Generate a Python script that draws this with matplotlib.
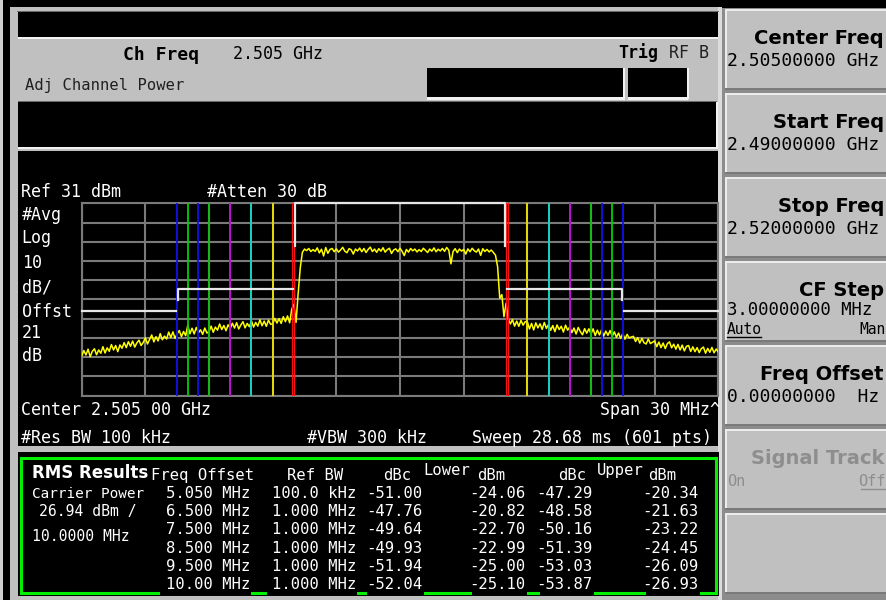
import numpy as np
import matplotlib
matplotlib.use("Agg")
import matplotlib.pyplot as plt
from matplotlib.patches import Rectangle

# ---------------- data ----------------
center_ghz = 2.505
span_mhz = 30.0
ref_level_dbm = 31
db_per_div = 10
n_div = 10

# averaged trace (dBm), read every 0.1 MHz from -15 MHz to +15 MHz
trace_dbm = [
    -48.5, -45.6, -47.9, -44.9, -48.8, -46.0, -44.7, -47.8, -45.3, -47.0,
    -43.6, -46.9, -44.2, -46.0, -42.5, -45.3, -43.0, -46.2, -42.7, -44.4,
    -41.5, -44.1, -41.0, -43.4, -40.7, -43.8, -41.6, -40.2, -43.0, -41.4,
    -39.0, -42.2, -39.8, -37.5, -41.1, -38.4, -40.6, -36.8, -40.0, -38.1,
    -39.6, -36.0, -38.8, -35.9, -39.3, -36.8, -35.2, -38.4, -35.7, -37.9,
    -32.5, -36.9, -34.0, -37.0, -33.6, -36.4, -34.8, -37.2, -33.9, -36.5,
    -35.8, -32.9, -36.1, -33.4, -35.0, -31.8, -34.7, -32.6, -35.3, -32.2,
    -34.0, -31.4, -33.9, -31.1, -34.4, -32.3, -30.6, -33.8, -31.5, -33.2,
    -30.2, -33.4, -31.0, -32.9, -29.6, -32.7, -30.3, -33.0, -29.8, -31.9,
    -31.8, -28.9, -31.3, -29.0, -31.5, -28.0, -30.6, -27.6, -31.2, -24.0,
    -21.5, -31.0, -16.0, -2.5, 5.5, 7.2, 6.4, 7.5, 5.9, 6.9,
    6.0, 7.8, 5.2, 7.1, 3.6, 8.0, 5.0, 7.0, 7.5, 5.8,
    7.3, 5.6, 6.7, 8.1, 6.1, 5.3, 7.4, 6.8, 4.6, 7.2,
    6.2, 7.7, 5.8, 7.5, 5.4, 7.0, 8.2, 5.9, 7.2, 5.5,
    7.4, 6.1, 7.9, 5.6, 6.9, 7.6, 4.9, 6.7, 7.3, 5.8,
    7.6, 6.0, 3.8, 7.0, 5.6, 7.5, 6.3, 7.2, 5.7, 6.9,
    5.9, 7.6, 6.5, 5.4, 7.2, 6.1, 7.8, 5.8, 7.1, 6.2,
    7.5, 6.0, 8.0, 6.6, -0.5, 5.9, 7.4, 5.3, 7.2, 6.1,
    7.0, 4.6, 7.3, 5.8, 7.6, 6.3, 5.6, 7.2, 3.9, 7.4,
    5.9, 7.0, 5.7, 6.7, 5.4, 4.0, -2.0, -18.4, -16.5, -28.0,
    -21.0, -29.0, -31.8, -29.5, -32.9, -30.3, -33.0, -29.9, -32.4, -30.6,
    -30.6, -34.4, -31.5, -34.9, -31.2, -33.8, -31.7, -34.6, -31.0, -34.1,
    -32.0, -35.1, -32.6, -35.8, -32.3, -34.7, -33.0, -36.0, -32.4, -35.0,
    -33.3, -36.3, -33.9, -37.0, -33.6, -35.8, -37.4, -34.2, -36.6, -34.3,
    -36.9, -34.3, -37.8, -35.0, -37.5, -34.8, -38.1, -35.5, -37.7, -35.2,
    -38.2, -35.9, -38.7, -36.5, -39.3, -36.8, -39.7, -37.2, -39.0, -38.6,
    -38.2, -40.9, -38.9, -41.7, -39.3, -41.6, -42.2, -39.6, -42.0, -41.3,
    -40.6, -43.6, -41.2, -44.1, -41.7, -44.6, -42.0, -41.1, -44.2, -42.3,
    -44.9, -42.4, -45.3, -42.8, -45.8, -43.4, -43.0, -46.1, -43.7, -46.2,
    -44.1, -46.7, -44.6, -43.8, -47.0, -44.5, -46.5, -44.0, -46.8, -44.8,
    -46.4,
]

# ACP setup and results
offsets_mhz = [5.05, 6.5, 7.5, 8.5, 9.5, 10.0]
ref_bw_mhz = [0.1, 1.0, 1.0, 1.0, 1.0, 1.0]
offset_colors = ["#ff1010", "#f0e000", "#00d0d0", "#d000d0", "#00d000", "#1010f0"]
lower_dbc = [-51.00, -47.76, -49.64, -49.93, -51.94, -52.04]
lower_dbm = [-24.06, -20.82, -22.70, -22.99, -25.00, -25.10]
upper_dbc = [-47.29, -48.58, -50.16, -51.39, -53.03, -53.87]
upper_dbm = [-20.34, -21.63, -23.22, -24.45, -26.09, -26.93]
carrier_power_dbm = 26.94
carrier_bw_mhz = 10.0

# white limit/bar lines (lower side; upper side mirrored)
carrier_mask_f = [-4.93, -4.93, 4.95, 4.95]
carrier_mask_db = [8.6, 31.0, 31.0, 8.9]
adj_mask_f = [-10.47, -10.47, -5.05]
adj_mask_db = [-19.2, -13.6, -13.6]
far_mask_f = [-15.0, -10.56]
far_mask_db = [-24.9, -24.9]

# softkeys
softkey_labels = ["Center Freq", "Start Freq", "Stop Freq", "CF Step", "Freq Offset", "Signal Track", ""]
softkey_values = ["2.50500000 GHz", "2.49000000 GHz", "2.52000000 GHz", "3.00000000 MHz",
                  "0.00000000  Hz", "", ""]

# ---------------- figure ----------------
W, H = 886, 600
fig = plt.figure(figsize=(W / 100, H / 100), dpi=100, facecolor="black")
bg = fig.add_axes([0, 0, 1, 1])
bg.set_xlim(0, W)
bg.set_ylim(H, 0)
bg.axis("off")

MONO = ["DejaVu Sans Mono", "DejaVu Sans"]
SANS = ["DejaVu Sans"]


def rect(x0, y0, x1, y1, color, z=1):
    bg.add_patch(Rectangle((x0, y0), x1 - x0, y1 - y0, facecolor=color,
                           edgecolor="none", zorder=z))


def txt(x, yc, s, size=12, ha="left", color="white", weight="normal", family=MONO, z=5):
    base = yc + 0.365 * size * 100 / 72
    bg.text(x, base, s, fontsize=size, ha=ha, va="baseline", color=color,
            fontweight=weight, family=family, zorder=z)


GRAY = "#c0c0c0"
LIGHT = "#f2f2f2"
DARK = "#6a6a6a"

# main panel frame
rect(0, 0, 3, H, "#d0d0d0")
rect(10, 7, 722, H, GRAY)
rect(718, 7, 722, H, "#dcdcdc")

# title bar
rect(17, 11, 719, 12, DARK)
rect(18, 12, 718, 37, "black")
rect(18, 37, 718, 39, LIGHT)

# status line
txt(123, 53, "Ch Freq", 13, weight="bold", color="black")
txt(233, 53, "%.3f GHz" % center_ghz, 12, color="black")
txt(658, 52, "Trig", 12, ha="right", color="black", weight="bold")
txt(669, 52, "RF B", 12, color="#202020")
txt(25, 84, "Adj Channel Power", 11.2, color="#202020")

# two small boxes
for x0, x1 in [(426.7, 625.0), (627.7, 688.3)]:
    rect(x0, 68.3, x1, 98.3, "black")
    rect(x0, 97.0, x1, 99.5, LIGHT)
    rect(x1 - 1.5, 68.3, x1 + 0.5, 99.5, LIGHT)

# message box
rect(18, 100.5, 717, 101.5, DARK)
rect(18, 101.5, 717, 147, "black")
rect(18, 146.5, 717, 148.5, LIGHT)
rect(716, 101.5, 718, 148.5, LIGHT)

# graph area
rect(18, 151, 718, 446, "black")

# table area
rect(18, 452, 719, 596, "black")
bg.add_patch(Rectangle((21.5, 457.5), 694.5, 135, facecolor="none",
                       edgecolor="#00f000", lw=2.2, zorder=2))

# softkey panel
rect(722, 8, W, H, "#8c8c8c")
rect(722, 0, W, 8, "black")
for i in range(7):
    y0 = 8 + 84 * i
    rect(725, y0 + 1, W, y0 + 82, GRAY)
    rect(725, y0 + 1, W, y0 + 3, "#ececec")
    rect(725, y0 + 1, 727, y0 + 82, "#ececec")
    rect(725, y0 + 80, W, y0 + 82, "#7a7a7a")
    lab = softkey_labels[i]
    val = softkey_values[i]
    if lab:
        col = "#8e8e8e" if lab == "Signal Track" else "black"
        txt(884, 37 + 84 * i, lab, 14, ha="right", weight="bold", family=SANS, color=col)
    if val:
        vy = 59 + 84 * i - (2 if lab == "CF Step" else 0)
        txt(727, vy, val, 13 if lab != "CF Step" else 12.4, color="black")
# CF Step Auto/Man
txt(727, 328.5, "Auto", 10.5, color="black")
bg.plot([727, 761], [336.5, 336.5], color="black", lw=1, zorder=5)
txt(886, 328.5, "Man", 10.5, ha="right", color="black")
# Signal Track On/Off
txt(727, 480, "On", 11, color="#8e8e8e")
txt(886, 480, "Off", 11, ha="right", color="#8e8e8e")
bg.plot([861, 886], [488.5, 488.5], color="#8e8e8e", lw=1, zorder=5)

# graph annotations
txt(21, 190.8, "Ref %d dBm" % ref_level_dbm, 12)
txt(207, 190.8, "#Atten 30 dB", 12)
for yc, s in zip([213.7, 236.5, 261.7, 286.7, 310.7, 332.3, 355.0],
                 ["#Avg", "Log", "%d" % db_per_div, "dB/", "Offst", "21", "dB"]):
    txt(21.7, yc, s, 12)
txt(21, 409.3, "Center 2.505 00 GHz", 12)
txt(720, 409.3, "Span %d MHz^" % span_mhz, 12, ha="right")
txt(21, 436.7, "#Res BW 100 kHz", 12)
txt(307, 436.7, "#VBW 300 kHz", 12)
txt(712, 436.7, "Sweep 28.68 ms (601 pts)", 12, ha="right")

# ---------------- spectrum axes ----------------
gx0, gx1, gy0, gy1 = 81.7, 718.3, 203.3, 395.5
ax = fig.add_axes([gx0 / W, 1 - gy1 / H, (gx1 - gx0) / W, (gy1 - gy0) / H])
ax.set_facecolor("black")
half = span_mhz / 2
ax.set_xlim(-half, half)
ax.set_ylim(ref_level_dbm - n_div * db_per_div, ref_level_dbm)
ax.set_xticks(np.linspace(-half, half, n_div + 1))
ax.set_yticks(np.linspace(ref_level_dbm - n_div * db_per_div, ref_level_dbm, n_div + 1))
ax.tick_params(length=0, labelbottom=False, labelleft=False)
ax.grid(True, color="#7a7a7a", lw=1.5)
for sp in ax.spines.values():
    sp.set_color("#7a7a7a")
    sp.set_linewidth(1.5)
ax.set_axisbelow(True)

freqs = np.linspace(-half, half, len(trace_dbm))
ax.plot(freqs, trace_dbm, color="#ffff00", lw=1.1, zorder=3)

for off, bw, c in zip(offsets_mhz, ref_bw_mhz, offset_colors):
    lw = 0.9 if bw < 0.5 else 1.3
    for side in (-1, 1):
        for edge in (off - bw / 2, off + bw / 2):
            ax.axvline(side * edge, color=c, lw=lw, zorder=4)

mask_kw = dict(color="#e6e6e6", lw=1.6, zorder=5, clip_on=False)
ax.plot(carrier_mask_f, carrier_mask_db, **mask_kw)
for side in (-1, 1):
    ax.plot([side * f for f in adj_mask_f], adj_mask_db, **mask_kw)
    ax.plot([side * f for f in far_mask_f], far_mask_db, **mask_kw)

# ---------------- results table ----------------
txt(32, 471.7, "RMS Results", 12, weight="bold", family=SANS)
hy = 474.3
for x, s in [(150.7, "Freq Offset"), (286.7, "Ref BW"), (382.7, "dBc"), (477, "dBm"),
             (558, "dBc"), (648, "dBm")]:
    txt(x, hy, s, 11.2)
txt(423, 469.7, "Lower", 11.2)
txt(597, 469.7, "Upper", 11.2)

txt(32, 492.3, "Carrier Power", 10.4)
txt(39, 510.7, "%.2f dBm /" % carrier_power_dbm, 10.6)
txt(31.7, 536, "%.4f MHz" % carrier_bw_mhz, 10.6)


def fmt_freq(v):
    return ("%.3f MHz" % v) if v < 10 else ("%.2f MHz" % v)


def fmt_bw(v):
    return ("%.1f kHz" % (v * 1000)) if v < 1 else ("%.3f MHz" % v)


row_y = [492.7, 510.7, 528.7, 547.3, 565.3, 583.3]
for i, yc in enumerate(row_y):
    txt(250, yc, fmt_freq(offsets_mhz[i]), 11.2, ha="right")
    txt(356, yc, fmt_bw(ref_bw_mhz[i]), 11.2, ha="right")
    txt(423, yc, "%.2f" % lower_dbc[i], 11.2, ha="right")
    txt(526, yc, "%.2f" % lower_dbm[i], 11.2, ha="right")
    txt(593, yc, "%.2f" % upper_dbc[i], 11.2, ha="right")
    txt(699, yc, "%.2f" % upper_dbm[i], 11.2, ha="right")

# last-row cells cut into the green border
for x0, x1 in [(160, 251), (267, 357), (367, 424), (472, 527), (540, 594), (646, 700)]:
    rect(x0, 590, x1, 595, "black", z=3)

fig.savefig("out.png", dpi=100, facecolor="black")
